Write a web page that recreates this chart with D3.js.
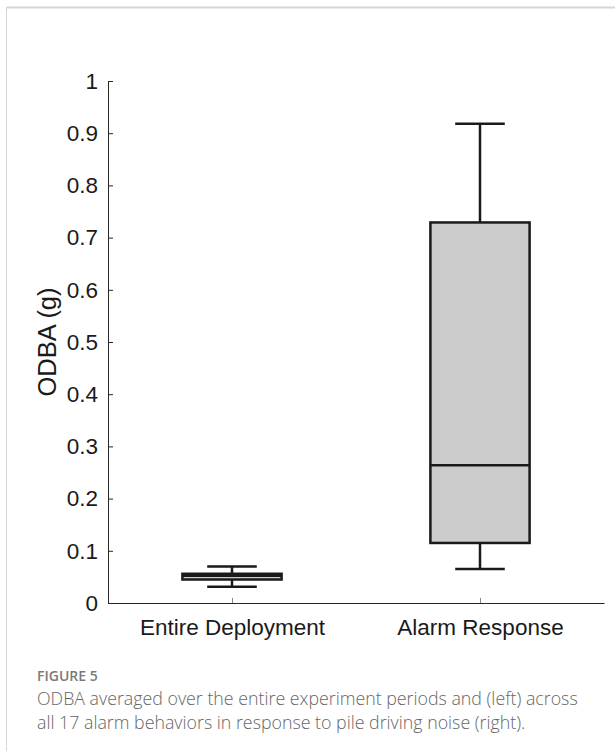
<!DOCTYPE html>
<html><head><meta charset="utf-8">
<script src="https://cdn.jsdelivr.net/npm/d3@7"></script>
<style>body{margin:0;background:#fff}svg{display:block}</style>
</head><body>
<script>
const categories = ["Entire Deployment", "Alarm Response"];
const whiskerLow  = [0.031, 0.065];
const q1          = [0.045, 0.115];
const median      = [0.052, 0.264];
const q3          = [0.056, 0.729];
const whiskerHigh = [0.070, 0.918];
const yTicks = [0, 0.1, 0.2, 0.3, 0.4, 0.5, 0.6, 0.7, 0.8, 0.9, 1];
const yTickLabels = ["0","0.1","0.2","0.3","0.4","0.5","0.6","0.7","0.8","0.9","1"];
const yLabel = "ODBA (g)";
const captionTitle = "FIGURE 5";
const captionLines = ["ODBA averaged over the entire experiment periods and (left) across",
                      "all 17 alarm behaviors in response to pile driving noise (right)."];

const W = 615, H = 751;
const svg = d3.select("body").append("svg").attr("width", W).attr("height", H);

// frame
svg.append("line").attr("x1",6.5).attr("x2",W).attr("y1",7.5).attr("y2",7.5).attr("stroke","#d6d6d6").attr("stroke-width",2);
svg.append("line").attr("x1",6.5).attr("x2",6.5).attr("y1",7).attr("y2",H).attr("stroke","#d6d6d6").attr("stroke-width",1);

const x = d3.scaleLinear().domain([0.5, 2.5]).range([108, 604]);
const y = d3.scaleLinear().domain([0, 1]).range([603, 81]);
const font = "'Liberation Sans', Arial, sans-serif";

// y axis
const yAxis = d3.axisLeft(y).tickValues(yTicks).tickFormat((d,i)=>yTickLabels[i]).tickSizeInner(-5).tickSizeOuter(-5).tickPadding(10);
const gy = svg.append("g").attr("transform","translate(108,0)").call(yAxis);
gy.selectAll("text").attr("font-family",font).attr("font-size",22.5).attr("fill","#1a1a1a");
gy.selectAll("line,path").attr("stroke","#262626");

// x axis
const xAxis = d3.axisBottom(x).tickValues([1,2]).tickFormat((d)=>categories[d-1]).tickSizeInner(-5).tickSizeOuter(0).tickPadding(16);
const gx = svg.append("g").attr("transform","translate(0,603)").call(xAxis);
gx.selectAll("text").attr("font-family",font).attr("font-size",22.5).attr("fill","#1a1a1a");
gx.selectAll("line,path").attr("stroke","#262626");
gx.selectAll(".tick line").attr("stroke","#888");

// y label
svg.append("text").attr("transform",`translate(56,${(y(0)+y(1))/2}) rotate(-90)`)
  .attr("text-anchor","middle").attr("font-family",font).attr("font-size",25.5).attr("fill","#1a1a1a").text(yLabel);

// boxes
const bw = 0.2, cw = 0.1;
categories.forEach((c,i)=>{
  const cx = i+1;
  const g = svg.append("g").attr("stroke","#1a1a1a").attr("stroke-width",2.5);
  g.append("line").attr("x1",x(cx)).attr("x2",x(cx)).attr("y1",y(whiskerHigh[i])).attr("y2",y(q3[i]));
  g.append("line").attr("x1",x(cx)).attr("x2",x(cx)).attr("y1",y(whiskerLow[i])).attr("y2",y(q1[i]));
  g.append("line").attr("x1",x(cx-cw)).attr("x2",x(cx+cw)).attr("y1",y(whiskerHigh[i])).attr("y2",y(whiskerHigh[i]));
  g.append("line").attr("x1",x(cx-cw)).attr("x2",x(cx+cw)).attr("y1",y(whiskerLow[i])).attr("y2",y(whiskerLow[i]));
  g.append("rect").attr("x",x(cx-bw)).attr("width",x(cx+bw)-x(cx-bw))
    .attr("y",y(q3[i])).attr("height",y(q1[i])-y(q3[i])).attr("fill","#cccccc");
  g.append("line").attr("x1",x(cx-bw)).attr("x2",x(cx+bw)).attr("y1",y(median[i])).attr("y2",y(median[i]));
});

// caption
svg.append("text").attr("x",37).attr("y",681).attr("font-family","'Open Sans', sans-serif").attr("font-weight",600)
  .attr("font-size",14).attr("fill","#7a7a7a").text(captionTitle);
captionLines.forEach((t,i)=>{
  svg.append("text").attr("x",37).attr("y",705+i*24).attr("font-family","'Open Sans', sans-serif").attr("font-weight",300)
    .attr("font-size",17.8).attr("fill","#666").text(t);
});
</script>
</body></html>
